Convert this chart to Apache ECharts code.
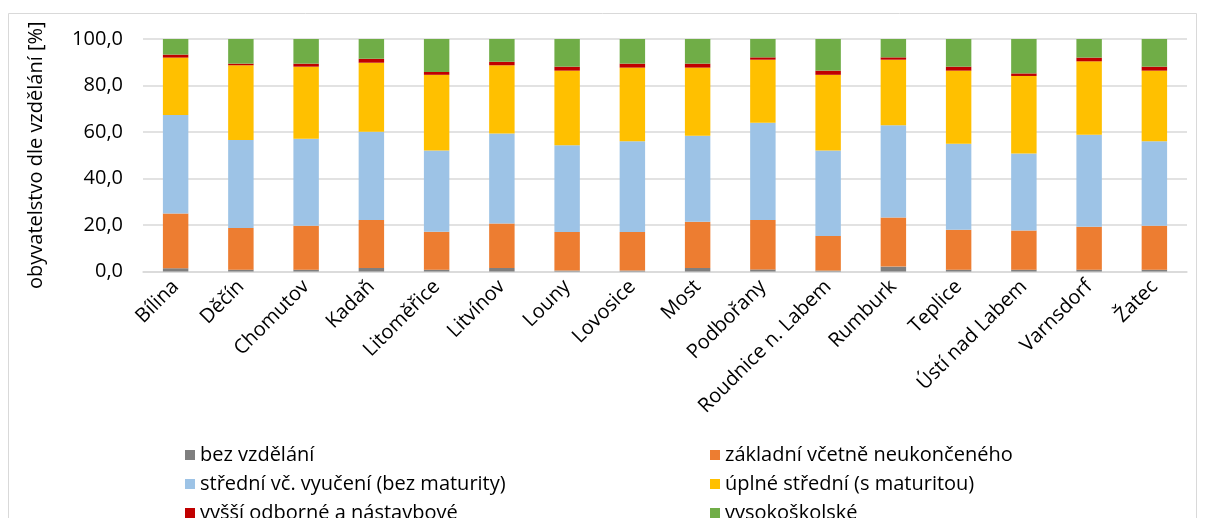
<!DOCTYPE html>
<html>
<head>
<meta charset="utf-8">
<script src="https://cdn.jsdelivr.net/npm/echarts@6/dist/echarts.min.js"></script>
<style>html,body{margin:0;padding:0;background:#fff}#c{width:1205px;height:518px}</style>
</head>
<body>
<div id="c"></div>
<script>
const categories = ["Bílina","Děčín","Chomutov","Kadaň","Litoměřice","Litvínov","Louny","Lovosice","Most","Podbořany","Roudnice n. Labem","Rumburk","Teplice","Ústí nad Labem","Varnsdorf","Žatec"];
const yTicks = [0, 20, 40, 60, 80, 100];
const bezVzdelani   = [1.4, 0.8, 0.8, 1.5, 0.8, 1.5, 0.4, 0.4, 1.5, 0.9, 0.4, 2.1, 0.8, 0.8, 0.8, 0.8];
const zakladni      = [23.5, 17.9, 18.9, 20.7, 16.3, 19.1, 16.6, 16.6, 19.9, 21.3, 14.9, 21.1, 17.2, 16.8, 18.5, 18.9];
const stredni       = [42.4, 37.9, 37.4, 37.9, 34.9, 38.8, 37.3, 39.0, 37.0, 41.8, 36.7, 39.7, 37.0, 33.2, 39.5, 36.3];
const uplneStredni  = [24.7, 32.1, 31.0, 29.7, 32.6, 29.3, 32.1, 31.7, 29.3, 27.1, 32.6, 28.2, 31.4, 33.3, 31.6, 30.4];
const vyssiOdborne  = [1.3, 0.7, 1.3, 1.7, 1.2, 1.5, 1.7, 1.7, 1.7, 1.0, 1.8, 1.0, 1.7, 1.1, 1.6, 1.7];
const vysokoskolske = [6.7, 10.6, 10.6, 8.5, 14.2, 9.8, 11.9, 10.6, 10.6, 7.9, 13.6, 7.9, 11.9, 14.8, 8.0, 11.9];
const seriesNames = ["bez vzdělání","základní včetně neukončeného","střední vč. vyučení (bez maturity)","úplné střední (s maturitou)","vyšší odborné a nástavbové","vysokoškolské"];
const seriesData = [bezVzdelani, zakladni, stredni, uplneStredni, vyssiOdborne, vysokoskolske];
const colors = ["#7f7f7f","#ed7d31","#9dc3e6","#ffc000","#c00000","#70ad47"];

const FONT = "Open Sans";
const FS = 20;
const chart = echarts.init(document.getElementById('c'), null, {renderer:'canvas'});
const legendText = {fontFamily: FONT, fontSize: FS, color: '#000', lineHeight: 20};
chart.setOption({
  animation: false,
  backgroundColor: '#fff',
  color: colors,
  graphic: [{type:'rect', shape:{x:8.5, y:13.5, width:1188, height:520}, style:{fill:'none', stroke:'#d9d9d9', lineWidth:1}}],
  grid: {left:143, right:18, top:39, bottom:246.5, containLabel:false},
  legend: [
    {left:180, top:440, height:120, orient:'vertical', itemGap:9, itemWidth:10, itemHeight:10, icon:'rect', textStyle:legendText,
     data:[seriesNames[0], seriesNames[2], seriesNames[4]]},
    {left:705, top:440, height:120, orient:'vertical', itemGap:9, itemWidth:10, itemHeight:10, icon:'rect', textStyle:legendText,
     data:[seriesNames[1], seriesNames[3], seriesNames[5]]}
  ],
  xAxis: {
    type:'category', data:categories,
    axisLine:{lineStyle:{color:'#d9d9d9', width:1.5}},
    axisTick:{show:false},
    axisLabel:{rotate:45, interval:0, margin:12, fontFamily:FONT, fontSize:FS, color:'#000'}
  },
  yAxis: {
    type:'value', min:yTicks[0], max:yTicks[yTicks.length-1], interval:20,
    name:'obyvatelstvo dle vzdělání [%]', nameLocation:'middle', nameGap:97, nameRotate:90,
    nameTextStyle:{fontFamily:FONT, fontSize:FS, color:'#000'},
    axisLine:{show:false}, axisTick:{show:false},
    splitLine:{lineStyle:{color:'#d9d9d9', width:1.5}},
    axisLabel:{margin:20, fontFamily:FONT, fontSize:FS, color:'#000', formatter:v=>v.toFixed(1).replace('.', ',')}
  },
  series: seriesNames.map((n,i)=>({
    name:n, type:'bar', stack:'total', barWidth:'39%', data:seriesData[i],
    itemStyle:{color:colors[i]}
  }))
});
</script>
</body>
</html>
